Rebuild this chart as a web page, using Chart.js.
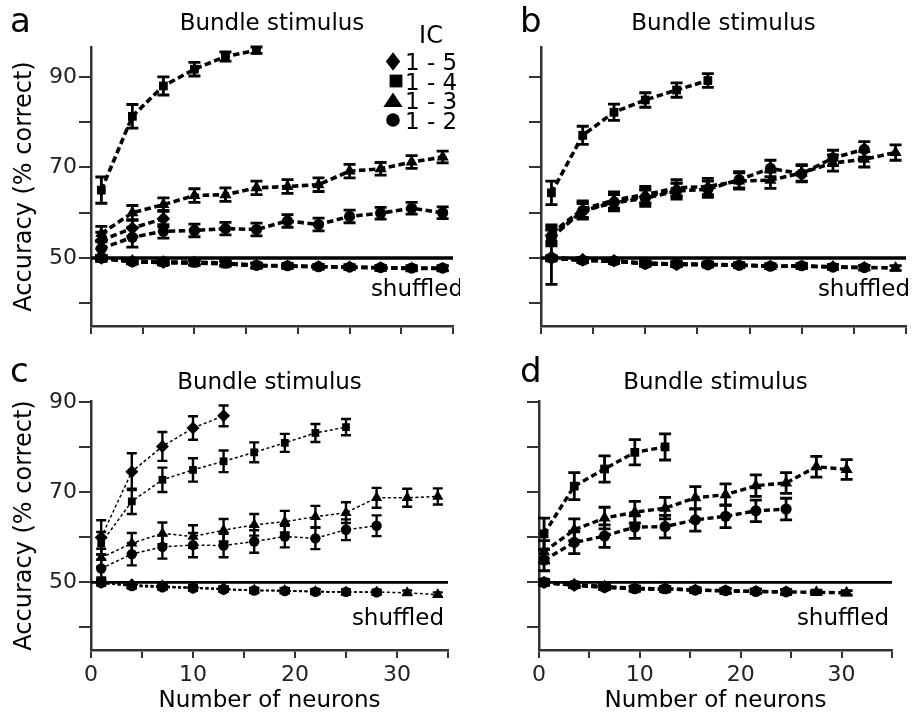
<!DOCTYPE html>
<html><head><meta charset="utf-8">
<script src="https://cdn.jsdelivr.net/npm/chart.js@4.4.1/dist/chart.umd.min.js"></script>
<style>
html,body{margin:0;padding:0;background:#fff;width:913px;height:719px;overflow:hidden}
canvas{position:absolute;display:block}
</style></head><body>
<canvas id="ca" width="460" height="350" style="left:0;top:0;width:460px;height:350px"></canvas>
<canvas id="cb" width="453" height="350" style="left:460px;top:0;width:453px;height:350px"></canvas>
<canvas id="cc" width="460" height="369" style="left:0;top:350px;width:460px;height:369px"></canvas>
<canvas id="cd" width="453" height="369" style="left:460px;top:350px;width:453px;height:369px"></canvas>
<script>
// ---------- tick labels ----------
const yTicks = [40, 50, 60, 70, 80, 90];
const yLabels = [50, 70, 90];
const xTicks = [0, 5, 10, 15, 20, 25, 30, 35];
const xLabels = [0, 10, 20, 30];
const icNames = ['1 - 5', '1 - 4', '1 - 3', '1 - 2'];

// ---------- panel a ----------
const xA = [1, 4, 7, 10, 13, 16, 19, 22, 25, 28, 31, 34];
const aIC15 = [53.9, 56.6, 58.7];
const aIC15err = [1.8, 1.8, 1.8];
const aIC14 = [65.0, 81.3, 88.0, 91.7, 94.5, 95.9];
const aIC14err = [2.9, 2.6, 2.0, 1.5, 1.0, 0.7];
const aIC13 = [55.4, 60.0, 61.8, 63.8, 64.0, 65.5, 65.8, 66.2, 69.2, 69.7, 71.2, 72.3];
const aIC13err = [1.6, 1.6, 1.5, 1.5, 1.5, 1.5, 1.5, 1.5, 1.5, 1.4, 1.4, 1.3];
const aIC12 = [52.1, 54.6, 55.9, 56.1, 56.5, 56.3, 58.2, 57.4, 59.2, 59.9, 61.0, 60.0];
const aIC12err = [1.5, 2.2, 1.5, 1.4, 1.4, 1.4, 1.4, 1.4, 1.4, 1.3, 1.3, 1.3];
const aSh15 = [50.0, 49.3, 49.1];
const aSh14 = [50.1, 49.2, 49.0, 48.9, 48.7, 48.4];
const aSh13 = [49.8, 49.3, 49.0, 49.0, 48.8, 48.3, 48.2, 48.1, 48.0, 47.8, 47.7, 47.7];
const aSh12 = [50.0, 49.2, 49.1, 49.1, 48.9, 48.4, 48.3, 48.1, 48.0, 47.9, 47.8, 47.8];

// ---------- panel b ----------
const xB = [1, 4, 7, 10, 13, 16, 19, 22, 25, 28, 31, 34];
const bIC15 = [55.0, 60.3, 62.5, 63.6, 65.0];
const bIC15err = [1.8, 1.7, 1.6, 1.6, 1.5];
const bIC14 = [64.4, 77.1, 82.2, 84.9, 87.1, 89.2];
const bIC14err = [2.6, 2.0, 1.8, 1.6, 1.6, 1.5];
const bIC13 = [55.5, 60.8, 62.8, 64.0, 65.5, 65.8, 67.0, 67.2, 68.8, 71.0, 71.8, 73.3];
const bIC13err = [1.8, 1.8, 1.8, 1.8, 1.8, 1.8, 1.8, 1.8, 1.8, 1.8, 1.7, 1.7];
const bIC12 = [54.5, 60.5, 62.2, 63.2, 64.8, 65.2, 67.3, 69.8, 68.6, 72.1, 74.0];
const bIC12err = [1.8, 1.8, 1.8, 1.8, 1.8, 1.8, 1.8, 1.8, 1.8, 1.7, 1.7];
const bSh15 = [50.2, 49.6, 49.4, 48.8, 48.6];
const bSh15err = [6.0, 0.5, 0.5, 0.5, 0.5];
const bSh14 = [50.0, 49.5, 49.3, 48.9, 48.7, 48.6];
const bSh13 = [49.9, 49.6, 49.3, 48.8, 48.6, 48.6, 48.5, 48.2, 48.2, 48.1, 47.9, 47.8];
const bSh12 = [50.0, 49.5, 49.4, 48.7, 48.6, 48.5, 48.4, 48.2, 48.3, 48.0, 47.9];

// ---------- panel c ----------
const xC = [1, 4, 7, 10, 13, 16, 19, 22, 25, 28, 31, 34];
const cIC15 = [60.0, 74.6, 80.2, 84.3, 87.0];
const cIC15err = [3.8, 4.1, 3.2, 2.6, 2.3];
const cIC14 = [58.7, 68.0, 72.8, 75.0, 76.9, 78.9, 81.0, 83.2, 84.5];
const cIC14err = [2.5, 2.8, 2.7, 2.6, 2.4, 2.2, 2.0, 2.0, 1.8];
const cIC13 = [55.5, 58.7, 60.9, 60.2, 61.6, 62.8, 63.5, 64.6, 65.5, 68.8, 68.8, 69.1];
const cIC13err = [2.0, 2.3, 2.4, 2.5, 2.5, 2.4, 2.4, 2.4, 2.3, 2.2, 2.0, 1.8];
const cIC12 = [53.1, 56.3, 57.9, 58.3, 58.2, 59.1, 60.2, 59.8, 61.7, 62.6];
const cIC12err = [2.0, 2.5, 2.6, 2.7, 2.6, 2.5, 2.4, 2.4, 2.3, 2.3];
const cSh15 = [50.0, 49.5, 49.2, 48.9, 48.6];
const cSh14 = [49.8, 49.2, 49.0, 48.8, 48.5, 48.2, 48.2, 48.0, 47.9];
const cSh13 = [50.2, 49.4, 49.1, 48.9, 48.6, 48.3, 48.2, 48.0, 47.9, 47.9, 47.7, 47.3];
const cSh12 = [49.9, 49.2, 48.9, 48.7, 48.4, 48.2, 48.1, 47.9, 47.9, 47.8];

// ---------- panel d ----------
const xD = [0.5, 3.5, 6.5, 9.5, 12.5, 15.5, 18.5, 21.5, 24.5, 27.5, 30.5];
const dIC14 = [60.8, 71.4, 75.2, 78.9, 80.1];
const dIC14err = [3.5, 3.0, 2.9, 2.8, 2.9];
const dIC13 = [56.8, 61.7, 64.3, 65.6, 66.5, 68.8, 69.5, 71.5, 72.1, 75.7, 75.1];
const dIC13err = [2.5, 2.4, 2.4, 2.4, 2.4, 2.5, 2.4, 2.4, 2.3, 2.3, 2.2];
const dIC12 = [55.0, 58.9, 60.3, 62.3, 62.4, 63.9, 64.7, 65.9, 66.3];
const dIC12err = [2.4, 2.5, 2.5, 2.5, 2.5, 2.5, 2.5, 2.4, 2.4];
const dSh15 = [50.0, 49.4, 49.0];
const dSh14 = [50.1, 49.5, 49.0, 48.6, 48.5];
const dSh13 = [49.9, 49.5, 49.1, 48.7, 48.6, 48.3, 48.1, 48.0, 47.9, 47.8, 47.7];
const dSh12 = [50.0, 49.4, 48.9, 48.6, 48.6, 48.3, 48.2, 48.0, 47.9];

const shErr = [0.5, 0.5, 0.5, 0.5, 0.5, 0.5, 0.5, 0.5, 0.5, 0.5, 0.5, 0.5];

const FONT = '"DejaVu Sans", sans-serif';
Chart.defaults.font.family = FONT;

const errorBars = {
  id: 'errorBars',
  afterDatasetsDraw(chart, args, o) {
    const ctx = chart.ctx, ys = chart.scales.y;
    chart.data.datasets.forEach((ds, di) => {
      if (!ds.errors) return;
      const meta = chart.getDatasetMeta(di);
      ctx.save();
      ctx.strokeStyle = '#000';
      ctx.lineWidth = o.width;
      ctx.setLineDash([]);
      meta.data.forEach((pt, i) => {
        const v = ds.data[i].y, e = ds.errors[i];
        if (e == null) return;
        const x = pt.x;
        const y1 = ys.getPixelForValue(v + e), y2 = ys.getPixelForValue(v - e);
        ctx.beginPath();
        ctx.moveTo(x, y1); ctx.lineTo(x, y2);
        ctx.moveTo(x - o.cap, y1); ctx.lineTo(x + o.cap, y1);
        ctx.moveTo(x - o.cap, y2); ctx.lineTo(x + o.cap, y2);
        ctx.stroke();
      });
      ctx.restore();
    });
  }
};

function marker(ctx, style, x, y, r) {
  ctx.beginPath();
  if (style === 'rectRot') {
    ctx.moveTo(x, y - r * 1.15); ctx.lineTo(x + r * 0.9, y); ctx.lineTo(x, y + r * 1.15); ctx.lineTo(x - r * 0.9, y);
  } else if (style === 'rect') {
    ctx.rect(x - r * 0.8, y - r * 0.8, r * 1.6, r * 1.6);
  } else if (style === 'triangle') {
    ctx.moveTo(x, y - r); ctx.lineTo(x + r * 1.2, y + r * 0.8); ctx.lineTo(x - r * 1.2, y + r * 0.8);
  } else {
    ctx.arc(x, y, r * 0.85, 0, Math.PI * 2);
  }
  ctx.closePath();
  ctx.fill();
}

const deco = {
  id: 'deco',
  afterDraw(chart, args, o) {
    const ctx = chart.ctx, ca = chart.chartArea;
    ctx.save();
    ctx.fillStyle = '#000';
    ctx.textBaseline = 'alphabetic';
    ctx.font = '34px ' + FONT; ctx.textAlign = 'left';
    ctx.fillText(o.letter, o.letterX, o.letterY);
    ctx.font = '23px ' + FONT; ctx.textAlign = 'center';
    ctx.fillText('Bundle stimulus', (ca.left + ca.right) / 2, o.titleY);
    ctx.textAlign = 'right';
    ctx.fillText('shuffled', o.shX, o.shY);
    if (o.legend) {
      ctx.font = '24px ' + FONT; ctx.textAlign = 'center';
      ctx.fillText('IC', 431, 43);
      const styles = ['rectRot', 'rect', 'triangle', 'circle'];
      const base = [70, 89.5, 109, 128.5];
      ctx.font = '23px ' + FONT; ctx.textAlign = 'left';
      icNames.forEach((t, i) => {
        ctx.fillText(t, 405, base[i]);
        marker(ctx, styles[i], i === 1 ? 396 : 393, base[i] - 8.5, 8);
      });
    }
    ctx.restore();
  }
};

function makePanel(id, p) {
  const datasets = [];
  const pr = p.pr;
  const addSeries = (ys, errs, style) => {
    datasets.push({
      data: ys.map((v, i) => ({x: p.xs[i], y: v})),
      errors: errs,
      borderColor: '#000', borderWidth: p.lineW, borderDash: p.dash,
      pointStyle: style, pointRadius: pr[style],
      pointBackgroundColor: '#000', pointBorderColor: '#000', pointBorderWidth: 0,
      fill: false, tension: 0
    });
  };
  p.series.forEach(s => addSeries(s[0], s[1], s[2]));
  datasets.push({
    data: [{x: 0, y: 50}, {x: 35, y: 50}],
    borderColor: '#000', borderWidth: p.refW, pointRadius: 0, fill: false
  });
  new Chart(document.getElementById(id), {
    type: 'line',
    data: {datasets},
    plugins: [errorBars, deco],
    options: {
      responsive: false, animation: false, events: [],
      layout: {padding: {left: 0, right: p.padR, top: p.padT, bottom: p.padB}},
      plugins: {
        legend: {display: false}, tooltip: {enabled: false},
        errorBars: {width: p.ebW, cap: p.cap},
        deco: p.deco
      },
      scales: {
        x: {
          type: 'linear', min: 0, max: 35,
          afterBuildTicks: s => { s.ticks = xTicks.map(v => ({value: v})); },
          afterFit: s => { s.height = p.xH; },
          ticks: {autoSkip: false, maxRotation: 0, padding: 4, color: '#222', font: {size: 22},
            callback: v => (p.xLab && xLabels.includes(v)) ? String(v) : ''},
          grid: {drawOnChartArea: false, drawTicks: true, tickLength: 8, tickColor: '#333', lineWidth: 2},
          border: {color: '#333', width: 2.5},
          title: {display: p.xLab, text: 'Number of neurons', color: '#000', font: {size: 23}, padding: {top: 0, bottom: 4}}
        },
        y: {
          type: 'linear', min: 35, max: p.yMax,
          afterBuildTicks: s => { s.ticks = yTicks.map(v => ({value: v})); },
          afterFit: s => { s.width = p.yW; },
          ticks: {padding: 2, color: '#222', font: {size: 22},
            callback: v => (p.yLab && yLabels.includes(v)) ? String(v) : ''},
          grid: {drawOnChartArea: false, drawTicks: true, tickLength: 12, tickColor: '#333', lineWidth: 2},
          border: {color: '#333', width: 2.5},
          title: {display: p.yLab, text: 'Accuracy (% correct)', color: '#000', font: {size: 24}, padding: {top: 10, bottom: 0}}
        }
      }
    }
  });
}

const thickPR = {rectRot: 6.8, rect: 6.2, triangle: 7, circle: 5.6};
const thinPR = {rectRot: 6.5, rect: 5.5, triangle: 6.5, circle: 5.2};

makePanel('ca', {
  xs: xA, yMax: 96.6, yW: 91, padR: 2, padT: 47, padB: 4, xH: 20, xLab: false, yLab: true,
  lineW: 3.6, dash: [6.5, 3.5], refW: 3.5, ebW: 2.8, cap: 6, pr: thickPR,
  series: [
    [aSh13, shErr, 'triangle'], [aSh12, shErr, 'circle'], [aSh14, shErr, 'rect'], [aSh15, shErr, 'rectRot'],
    [aIC13, aIC13err, 'triangle'], [aIC12, aIC12err, 'circle'], [aIC15, aIC15err, 'rectRot'], [aIC14, aIC14err, 'rect']
  ],
  deco: {letter: 'a', letterX: 10, letterY: 32, titleY: 29.5, shX: 463, shY: 296, legend: true}
});
makePanel('cb', {
  xs: xB, yMax: 96.6, yW: 81, padR: 5, padT: 47, padB: 4, xH: 20, xLab: false, yLab: false,
  lineW: 3.6, dash: [6.5, 3.5], refW: 3.5, ebW: 2.8, cap: 6, pr: thickPR,
  series: [
    [bSh13, shErr, 'triangle'], [bSh12, shErr, 'circle'], [bSh14, shErr, 'rect'], [bSh15, bSh15err, 'rectRot'],
    [bIC13, bIC13err, 'triangle'], [bIC12, bIC12err, 'circle'], [bIC15, bIC15err, 'rectRot'], [bIC14, bIC14err, 'rect']
  ],
  deco: {letter: 'b', letterX: 60, letterY: 32, titleY: 29.5, shX: 450, shY: 296, legend: false}
});
makePanel('cc', {
  xs: xC, yMax: 90.3, yW: 91, padR: 12, padT: 51, padB: 0, xH: 69, xLab: true, yLab: true,
  lineW: 1.5, dash: [3, 2.5], refW: 2.8, ebW: 2.4, cap: 5, pr: thinPR,
  series: [
    [cSh13, shErr, 'triangle'], [cSh12, shErr, 'circle'], [cSh14, shErr, 'rect'], [cSh15, shErr, 'rectRot'],
    [cIC13, cIC13err, 'triangle'], [cIC12, cIC12err, 'circle'], [cIC14, cIC14err, 'rect'], [cIC15, cIC15err, 'rectRot']
  ],
  deco: {letter: 'c', letterX: 10, letterY: 32, titleY: 39, shX: 444, shY: 275, legend: false}
});
makePanel('cd', {
  xs: xD, yMax: 90.3, yW: 79, padR: 21, padT: 51, padB: 0, xH: 69, xLab: true, yLab: false,
  lineW: 3.4, dash: [6, 3.5], refW: 2.8, ebW: 2.8, cap: 6, pr: thickPR,
  series: [
    [dSh13, shErr, 'triangle'], [dSh12, shErr, 'circle'], [dSh14, shErr, 'rect'], [dSh15, shErr, 'rectRot'],
    [dIC13, dIC13err, 'triangle'], [dIC12, dIC12err, 'circle'], [dIC14, dIC14err, 'rect']
  ],
  deco: {letter: 'd', letterX: 60, letterY: 32, titleY: 39, shX: 429, shY: 275, legend: false}
});
</script>
</body></html>
